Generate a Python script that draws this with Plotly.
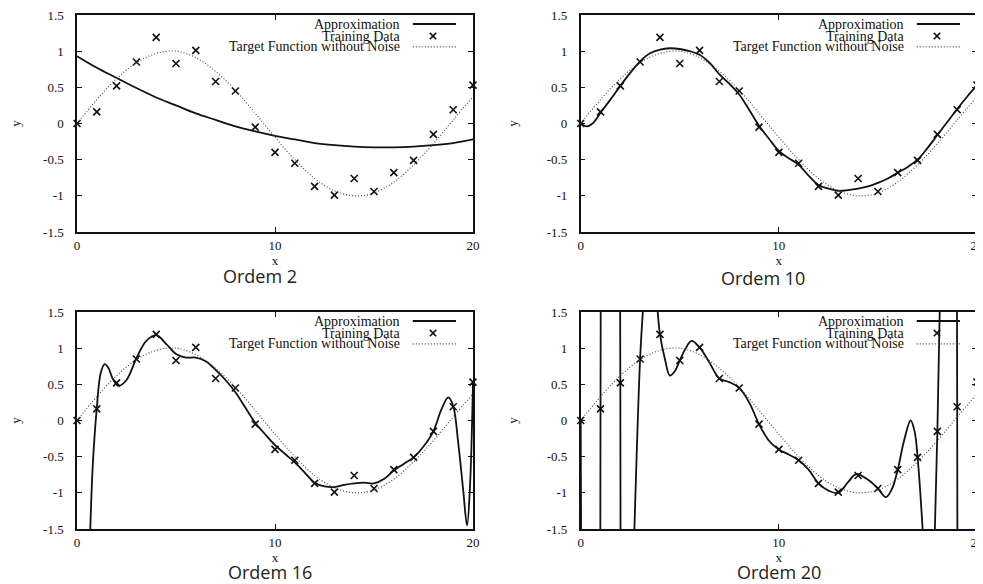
import plotly.graph_objects as go

# ---------------- data ----------------
train_x = list(range(21))
train_y = [0.00, 0.16, 0.52, 0.85, 1.19, 0.83, 1.01, 0.58, 0.45, -0.05, -0.40,
           -0.55, -0.87, -0.99, -0.76, -0.94, -0.68, -0.51, -0.15, 0.19, 0.53]

target_x = list(range(21))
target_y = [0.00, 0.33, 0.62, 0.84, 0.97, 1.00, 0.91, 0.72, 0.46, 0.14, -0.19,
            -0.50, -0.76, -0.93, -1.00, -0.96, -0.81, -0.57, -0.28, 0.05, 0.37]

ord2_x = list(range(21))
ord2_y = [0.93, 0.77, 0.63, 0.49, 0.36, 0.25, 0.14, 0.05, -0.04, -0.11, -0.17,
          -0.22, -0.27, -0.30, -0.32, -0.33, -0.33, -0.32, -0.30, -0.27, -0.22]

ord10_x = [0, 0.3, 0.6, 1, 1.5, 2, 2.5, 3, 3.5, 4, 4.5, 5, 5.5, 6, 6.5, 7, 7.5, 8,
           8.5, 9, 9.5, 10, 10.5, 11, 11.5, 12, 12.5, 13, 13.5, 14, 14.5, 15,
           15.5, 16, 16.5, 17, 17.5, 18, 18.5, 19, 19.5, 20]
ord10_y = [0.00, -0.04, 0.00, 0.15, 0.33, 0.52, 0.70, 0.86, 0.97, 1.02, 1.04, 1.03,
           1.00, 0.95, 0.84, 0.68, 0.55, 0.40, 0.19, -0.03, -0.21, -0.38, -0.48,
           -0.57, -0.72, -0.85, -0.90, -0.93, -0.92, -0.90, -0.87, -0.82, -0.76,
           -0.68, -0.60, -0.50, -0.34, -0.16, 0.02, 0.20, 0.37, 0.53]

ord16_x = [0.6, 0.67, 0.8, 1.0, 1.2, 1.4, 1.6, 1.8, 2.1, 2.5, 3.0, 3.5, 4.0, 4.5,
           5.0, 5.5, 6.0, 6.5, 7.0, 7.5, 8.0, 8.5, 9.0, 9.5, 10.0, 10.5, 11.0,
           11.5, 12.0, 12.5, 13.0, 13.5, 14.0, 14.5, 15.0, 15.5, 16.0, 16.5, 17.0,
           17.5, 18.0, 18.4, 18.75, 19.0, 19.25, 19.5, 19.7, 19.85, 20.0]
ord16_y = [-2.2, -1.5, -0.6, 0.17, 0.66, 0.78, 0.72, 0.58, 0.48, 0.56, 0.86, 1.10,
           1.18, 1.06, 0.92, 0.87, 0.87, 0.82, 0.70, 0.56, 0.39, 0.18, -0.03,
           -0.19, -0.34, -0.46, -0.58, -0.72, -0.86, -0.91, -0.92, -0.89, -0.87,
           -0.86, -0.87, -0.81, -0.69, -0.60, -0.51, -0.36, -0.15, 0.15, 0.32,
           0.20, -0.30, -0.95, -1.45, -0.90, 0.53]

ord20_x = [0, 0.02, None, 0.99, 1.0, 1.01, None, 1.99, 2.0, 2.01, None,
           2.7, 3.0, 3.16, None,
           3.86, 4.0, 4.25, 4.5, 4.75, 5.0, 5.3, 5.6, 6.0, 6.5, 7.0, 7.5, 8.0,
           8.5, 9.0, 9.5, 10.0, 10.5, 11.0, 11.5, 12.0, 12.5, 13.0, 13.5, 13.9,
           14.5, 15.0, 15.4, 15.7, 16.0, 16.3, 16.65, 16.85, 17.0, 17.28, None,
           17.865, 18.0, 18.125, None, 18.99, 19.0, 19.01, None, 19.97, 20.0]
ord20_y = [0.00, -1.6, None, -1.6, 0.17, 1.6, None, 1.6, 0.52, -1.6, None,
           -1.6, 0.86, 1.6, None,
           1.6, 1.19, 0.85, 0.62, 0.68, 0.83, 1.00, 1.10, 1.01, 0.80, 0.58, 0.53,
           0.45, 0.25, -0.05, -0.28, -0.40, -0.47, -0.55, -0.68, -0.87, -0.97,
           -1.00, -0.85, -0.74, -0.82, -0.94, -1.06, -0.95, -0.68, -0.30, 0.00,
           -0.15, -0.50, -1.6, None,
           -1.6, -0.15, 1.6, None, 1.6, 0.19, -1.6, None, -1.6, 0.53]

panel_titles = ["Ordem 2", "Ordem 10", "Ordem 16", "Ordem 20"]
legend_labels = ["Approximation", "Training Data", "Target Function without Noise"]
x_ticks = [0, 10, 20]
y_ticks = [-1.5, -1, -0.5, 0, 0.5, 1, 1.5]
y_ticktext = ["-1.5", "-1", "-0.5", "0", "0.5", "1", "1.5"]

approx = [(ord2_x, ord2_y), (ord10_x, ord10_y), (ord16_x, ord16_y), (ord20_x, ord20_y)]

# ---------------- figure ----------------
W, H = 983, 584
OFF = 8  # page body margin offset of the rendered figure
SERIF = "Liberation Serif"
DOTS = "1px,2px"
fig = go.Figure()


def px_x(p):
    return (p - OFF) / W


def px_y(p):
    return 1 - (p - OFF) / H


x_dom = [[px_x(77), px_x(473)], [px_x(580.7), px_x(977)]] * 2
y_dom = [[px_y(232), px_y(15)]] * 2 + [[px_y(529), px_y(312)]] * 2
title_pos = [(260, 276), (763, 278), (270, 572), (779, 572)]

layout = dict(width=W, height=H, margin=dict(l=0, r=0, t=0, b=0, autoexpand=False),
              paper_bgcolor="white", plot_bgcolor="white", showlegend=False)
shapes, annotations = [], []

for i in range(4):
    k = "" if i == 0 else str(i + 1)
    xa, ya = "x" + k, "y" + k
    ax, ay = approx[i]
    fig.add_trace(go.Scatter(x=ax, y=ay, mode="lines", xaxis=xa, yaxis=ya,
                             line=dict(color="#111", width=1.8, shape="spline"),
                             connectgaps=False, hoverinfo="skip"))
    fig.add_trace(go.Scatter(x=train_x, y=train_y, mode="markers", xaxis=xa, yaxis=ya,
                             marker=dict(symbol="x-thin", size=7, color="#111",
                                         line=dict(color="#111", width=1.6)),
                             cliponaxis=False, hoverinfo="skip"))
    fig.add_trace(go.Scatter(x=target_x, y=target_y, mode="lines", xaxis=xa, yaxis=ya,
                             line=dict(color="#444", width=1.1, dash=DOTS, shape="spline"),
                             hoverinfo="skip"))

    axis_common = dict(showline=True, linecolor="#111", linewidth=1.5, mirror="ticks",
                       ticks="inside", ticklen=5, tickwidth=1, tickcolor="#111",
                       showgrid=False, zeroline=False, automargin=False,
                       ticklabeloverflow="allow",
                       tickfont=dict(family=SERIF, size=13, color="#111"))
    layout["xaxis" + k] = dict(axis_common, domain=x_dom[i], range=[0, 20], anchor=ya,
                               tickvals=x_ticks, ticklabelstandoff=1,
                               title=dict(text="x", standoff=0,
                                          font=dict(family=SERIF, size=13, color="#111")))
    layout["yaxis" + k] = dict(axis_common, domain=y_dom[i], range=[-1.5, 1.5], anchor=xa,
                               tickvals=y_ticks, ticktext=y_ticktext, ticklabelstandoff=9,
                               title=dict(text="y", standoff=26,
                                          font=dict(family=SERIF, size=13, color="#111")))

    # gnuplot-style key (text right-aligned, sample on the right)
    xr, yr = xa + " domain", ya + " domain"
    rows = [0.9585, 0.903, 0.853]
    for lab, yy in zip(legend_labels, rows):
        annotations.append(dict(text=lab, xref=xr, yref=yr, x=0.821, y=yy,
                                xanchor="right", yanchor="middle", showarrow=False,
                                font=dict(family=SERIF, size=14, color="#111")))
    shapes.append(dict(type="line", xref=xr, yref=yr, x0=0.848, x1=0.957,
                       y0=rows[0], y1=rows[0], line=dict(color="#111", width=1.8)))
    dx, dy = 3.2 / 396, 3.2 / 217
    for s in (1, -1):
        shapes.append(dict(type="line", xref=xr, yref=yr, x0=0.899 - dx, x1=0.899 + dx,
                           y0=rows[1] - s * dy, y1=rows[1] + s * dy,
                           line=dict(color="#111", width=1.6)))
    shapes.append(dict(type="line", xref=xr, yref=yr, x0=0.848, x1=0.957,
                       y0=rows[2], y1=rows[2], line=dict(color="#444", width=1.1, dash=DOTS)))

    tx, ty = title_pos[i]
    annotations.append(dict(text=panel_titles[i], xref="paper", yref="paper",
                            x=px_x(tx), y=px_y(ty), xanchor="center", yanchor="middle",
                            showarrow=False,
                            font=dict(family="Open Sans", size=18, color="#222")))

layout["shapes"] = shapes
layout["annotations"] = annotations
fig.update_layout(**layout)
fig.write_html("out.html")
